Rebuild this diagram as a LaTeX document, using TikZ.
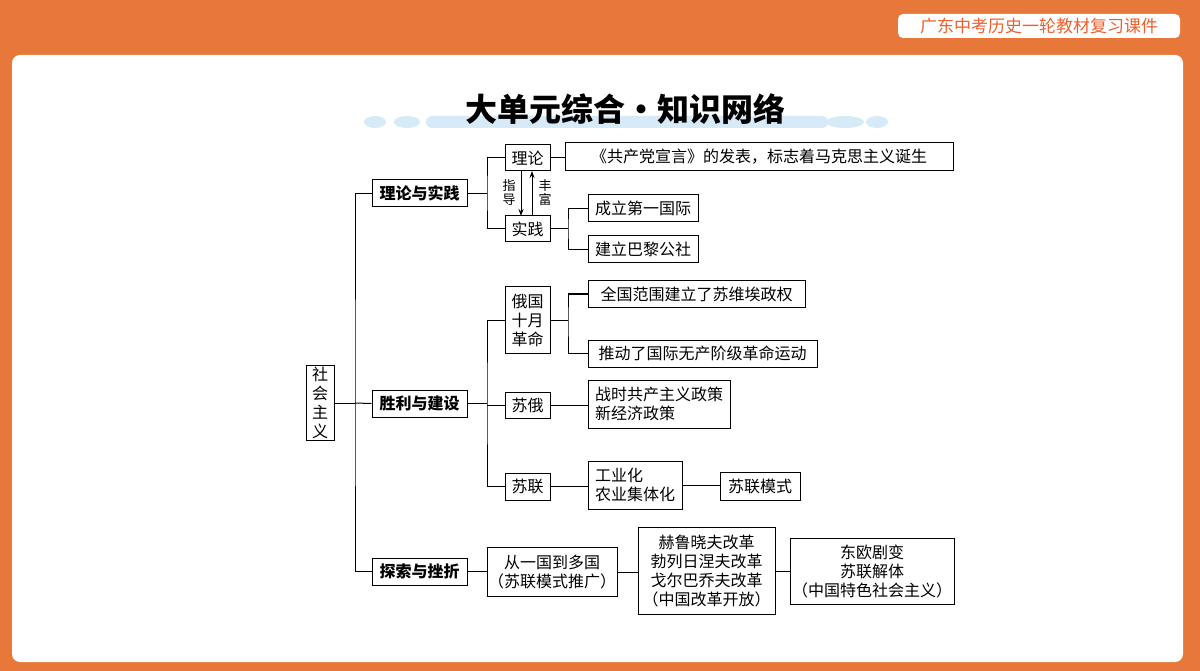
\documentclass[tikz,border=0pt]{standalone}
\usepackage{fontspec}
\setmainfont{Noto Sans CJK SC}
\usetikzlibrary{arrows.meta}
\definecolor{org}{HTML}{E8783A}
\definecolor{dotc}{HTML}{D6EAF8}
\begin{document}
\begin{tikzpicture}[x=1pt,y=-1pt,
  bx/.style={draw,line width=1pt,inner sep=0pt,font=\fontsize{16}{19}\selectfont,align=center},
  mb/.style={bx,font=\fontsize{16}{19}\selectfont\bfseries},
  ln/.style={line width=1pt}]
\useasboundingbox (0,0) rectangle (1200,671);
\fill[org] (0,0) rectangle (1200,671);
\fill[white,rounded corners=8pt] (12,55) rectangle (1183,662);
\node[fill=white,rounded corners=5pt,inner sep=2pt,minimum width=282pt,minimum height=24pt,text=org!80!red,font=\fontsize{17}{20}\selectfont] (hd) at (1039,26) {广东中考历史一轮教材复习课件};
\foreach \x/\w in {375/22,407/26,445/38,845/38,877/22}{\fill[dotc] (\x,122) ellipse ({\w/2} and 6);}
\fill[dotc,rounded corners=6pt] (426,116) rectangle (828,128);
\node[font=\fontsize{32}{36}\selectfont\bfseries] (tt) at (625,109) {大单元综合·知识网络};
% nodes
\node[bx,minimum width=28pt,minimum height=75pt] (root) at (320,403) {社\\会\\主\\义};
\node[mb,minimum width=95pt,minimum height=27pt] (a) at (419.5,193.5) {理论与实践};
\node[mb,minimum width=95pt,minimum height=27pt] (b) at (419.5,403.5) {胜利与建设};
\node[mb,minimum width=95pt,minimum height=27pt] (c) at (419.5,571.5) {探索与挫折};
\node[bx,minimum width=45pt,minimum height=26pt] (ll) at (527.5,158) {理论};
\node[bx,minimum width=45pt,minimum height=26pt] (sj) at (527.5,229) {实践};
\node[bx,minimum width=388pt,minimum height=28pt] (gc) at (759,157) {《共产党宣言》的发表，标志着马克思主义诞生};
\node[bx,minimum width=110pt,minimum height=27pt] (dy) at (643,208.5) {成立第一国际};
\node[bx,minimum width=110pt,minimum height=27pt] (bl) at (643,249.5) {建立巴黎公社};
\node[bx,minimum width=45pt,minimum height=66pt] (sy) at (527.5,320) {俄国\\十月\\革命};
\node[bx,minimum width=45pt,minimum height=26pt] (se) at (527.5,405) {苏俄};
\node[bx,minimum width=45pt,minimum height=27pt] (sl) at (527.5,486.5) {苏联};
\node[bx,minimum width=217pt,minimum height=26pt] (qg) at (696.5,294) {全国范围建立了苏维埃政权};
\node[bx,minimum width=229pt,minimum height=27pt] (td) at (702.5,353.5) {推动了国际无产阶级革命运动};
\node[bx,minimum width=142pt,minimum height=48pt,align=left] (zs) at (659,404) {战时共产主义政策\\新经济政策};
\node[bx,minimum width=94pt,minimum height=48pt,align=left] (gy) at (635,485) {工业化\\农业集体化};
\node[bx,minimum width=80pt,minimum height=28pt] (ms) at (760,486) {苏联模式};
\node[bx,minimum width=130pt,minimum height=49pt] (cy) at (552,572) {从一国到多国\\（苏联模式推广）};
\node[bx,minimum width=137pt,minimum height=87pt] (gg) at (706.5,571) {赫鲁晓夫改革\\勃列日涅夫改革\\戈尔巴乔夫改革\\（中国改革开放）};
\node[bx,minimum width=164pt,minimum height=66pt] (do) at (872,571) {东欧剧变\\苏联解体\\（中国特色社会主义）};
% connectors
\draw[ln] (root.east) -- (355,403);
\draw[ln] (a.west) -| (355,403) |- (c.west);
\draw[ln] (355,403) -- (b.west);
\draw[ln] (a.east) -- (487,193.5);
\draw[ln] (ll.west) -| (487,193.5) |- (sj.west);
\draw[ln] (ll.east) -- (ll.east -| gc.west);
\draw[ln] (sj.east) -- (568,229);
\draw[ln] (dy.west) -| (568,229) |- (bl.west);
\draw[ln,-{Stealth[length=7pt,width=5pt]}] (521,171) -- (521,216);
\draw[ln,-{Stealth[length=7pt,width=5pt]}] (532,216) -- (532,171);
\node[font=\fontsize{13}{14}\selectfont,align=center] (zd) at (509,193) {指\\导};
\node[font=\fontsize{13}{14}\selectfont,align=center] (ff) at (545,193) {丰\\富};
\draw[ln] (b.east) -- (487,403.5);
\draw[ln] (sy.west) -| (487,403.5) |- (sl.west);
\draw[ln] (487,405) -- (se.west);
\draw[ln] (sy.east) -- (568,320);
\draw[ln] (qg.west) -| (568,320) |- (td.west);
\draw[ln] (se.east) -- (se.east -| zs.west);
\draw[ln] (sl.east) -- (sl.east -| gy.west);
\draw[ln] (gy.east) -- (gy.east -| ms.west);
\draw[ln] (c.east) -- (c.east -| cy.west);
\draw[ln] (cy.east) -- (cy.east -| gg.west);
\draw[ln] (gg.east) -- (gg.east -| do.west);
\end{tikzpicture}
\end{document}
